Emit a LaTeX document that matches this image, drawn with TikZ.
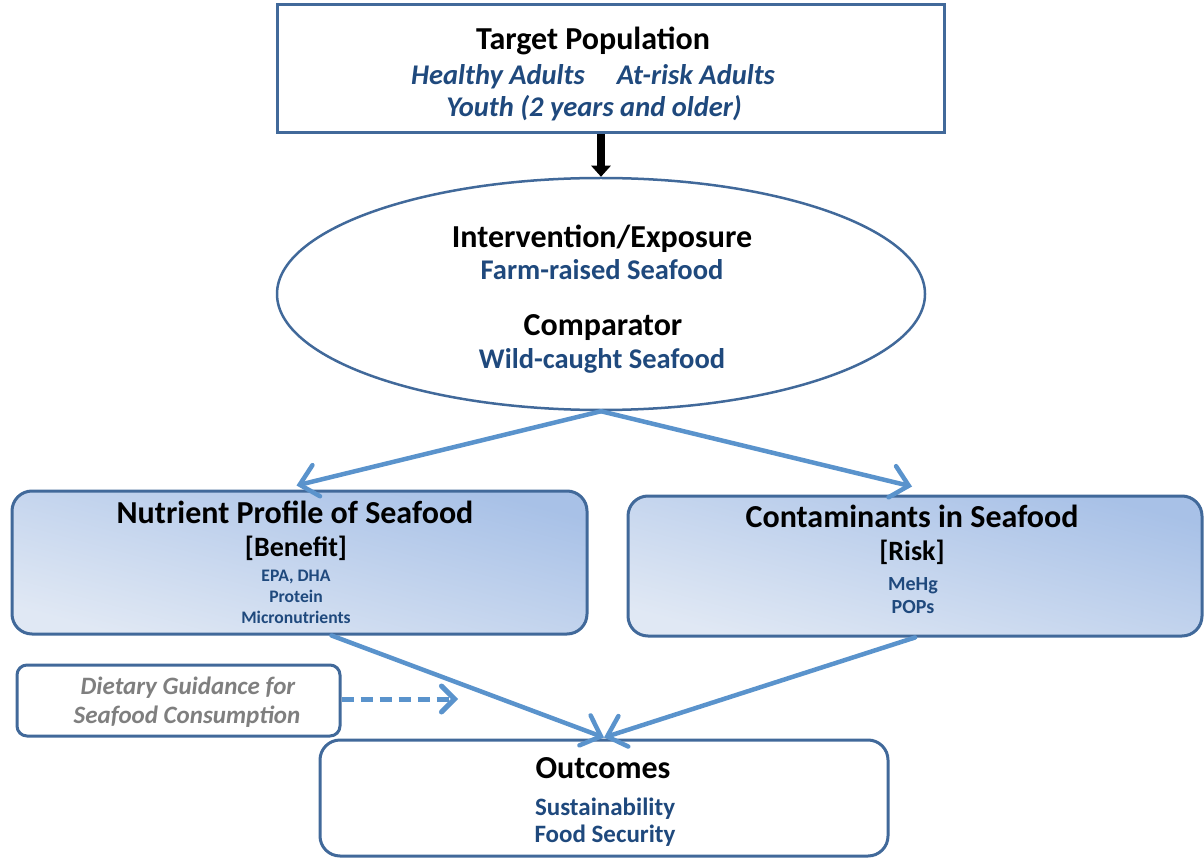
\documentclass[tikz,border=0pt]{standalone}
\usepackage{fontspec}
\setmainfont{Carlito}
\usetikzlibrary{arrows.meta,shapes.geometric}

\definecolor{frame}{HTML}{41699A}
\definecolor{flow}{HTML}{5A93CC}
\definecolor{navy}{HTML}{1F497D}
\definecolor{shadelight}{HTML}{E0E8F4}
\definecolor{shadedark}{HTML}{A8C1E7}
\definecolor{note}{HTML}{7F7F7F}

\newcommand{\sz}[1]{\fontsize{#1}{#1}\selectfont}

\begin{document}
\begin{tikzpicture}[x=1pt,y=-1pt,
  plainbox/.style={draw=frame, line width=3pt, fill=white, inner sep=0pt},
  softbox/.style={draw=frame, line width=3pt, rounded corners=20pt,
    top color=shadedark, bottom color=shadelight, shading angle=-15, inner sep=0pt},
  heading/.style={anchor=base, inner sep=0pt, font=\bfseries\sz{32}},
  tag/.style={anchor=base, inner sep=0pt, font=\bfseries\sz{28}},
  group/.style={anchor=base, inner sep=0pt, text=navy, font=\bfseries\itshape\sz{28.5}},
  item/.style={anchor=base, inner sep=0pt, text=navy, font=\bfseries\sz{28.5}},
  result/.style={anchor=base, inner sep=0pt, text=navy, font=\bfseries\sz{25}},
  small/.style={anchor=base, inner sep=0pt, text=navy, font=\bfseries\sz{17.6}},
  mid/.style={anchor=base, inner sep=0pt, text=navy, font=\bfseries\sz{20}},
  guide/.style={anchor=base, inner sep=0pt, text=note, font=\bfseries\itshape\sz{25}},
  flowarrow/.style={draw=flow, line width=4.5pt, line cap=round,
    -{Straight Barb[length=17pt,width=32pt,line cap=round]}}
]
\useasboundingbox (0,0) rectangle (1204,858);

% boxes
\node[plainbox, minimum width=667pt, minimum height=128pt] (pop) at (610.5,69) {};
\node[plainbox, line width=2.5pt, ellipse, minimum width=648pt, minimum height=232pt] (expo) at (601,294) {};
\node[softbox, minimum width=575pt, minimum height=143pt] (nutr) at (299.5,562.5) {};
\node[softbox, minimum width=574pt, minimum height=140pt] (risk) at (915,566) {};
\node[plainbox, rounded corners=10pt, minimum width=323pt, minimum height=71pt] (diet) at (178.5,700.5) {};
\node[plainbox, rounded corners=20pt, minimum width=568pt, minimum height=116pt] (out) at (604,798) {};

% population
\node[heading] (popT) at (593,50) {Target Population};
\node[group] (popA) at (593,85) {Healthy Adults\hspace{32pt}At-risk Adults};
\node[group] (popB) at (594,117) {Youth (2 years and older)};

% exposure and comparator
\node[heading] (expT) at (602,248) {Intervention/Exposure};
\node[item] (expA) at (602,280) {Farm-raised Seafood};
\node[heading] (cmpT) at (603,336) {Comparator};
\node[item] (cmpA) at (602,368) {Wild-caught Seafood};

% benefit
\node[heading] (nutT) at (295,523) {Nutrient Profile of Seafood};
\node[tag] (nutB) at (296,556) {[Benefit]};
\node[small] (nut1) at (296,581) {EPA, DHA};
\node[small] (nut2) at (296,602) {Protein};
\node[small] (nut3) at (296,623) {Micronutrients};

% risk
\node[heading] (rskT) at (912,527) {Contaminants in Seafood};
\node[tag] (rskB) at (912,560) {[Risk]};
\node[mid] (rsk1) at (913,590) {MeHg};
\node[mid] (rsk2) at (913,613) {POPs};

% guidance
\node[guide] (dg1) at (188,694) {Dietary Guidance for};
\node[guide] (dg2) at (187,723) {Seafood Consumption};

% outcomes
\node[heading] (outT) at (603,778) {Outcomes};
\node[result] (out1) at (605,815) {Sustainability};
\node[result] (out2) at (605,842) {Food Security};

% connectors
\draw[line width=8pt, -{Triangle[length=11pt,width=19pt]}] (pop.south -| expo.north) -- (expo.north);
\draw[flowarrow] (expo.south) -- ([shift={(-3,-4)}]nutr.north);
\draw[flowarrow] (expo.south) -- ([shift={(-3,-8)}]risk.north);
\draw[flowarrow] ([xshift=32pt]nutr.south) -- ([yshift=1pt]out.north);
\draw[flowarrow] (risk.south) -- ([yshift=1pt]out.north);
\coordinate (gd) at (458,699);
\draw[draw=flow, line width=5pt, dash pattern=on 12pt off 7pt,
  -{Straight Barb[length=13pt,width=26pt,line cap=round]}] (diet.east |- gd) -- (gd);
\end{tikzpicture}
\end{document}
